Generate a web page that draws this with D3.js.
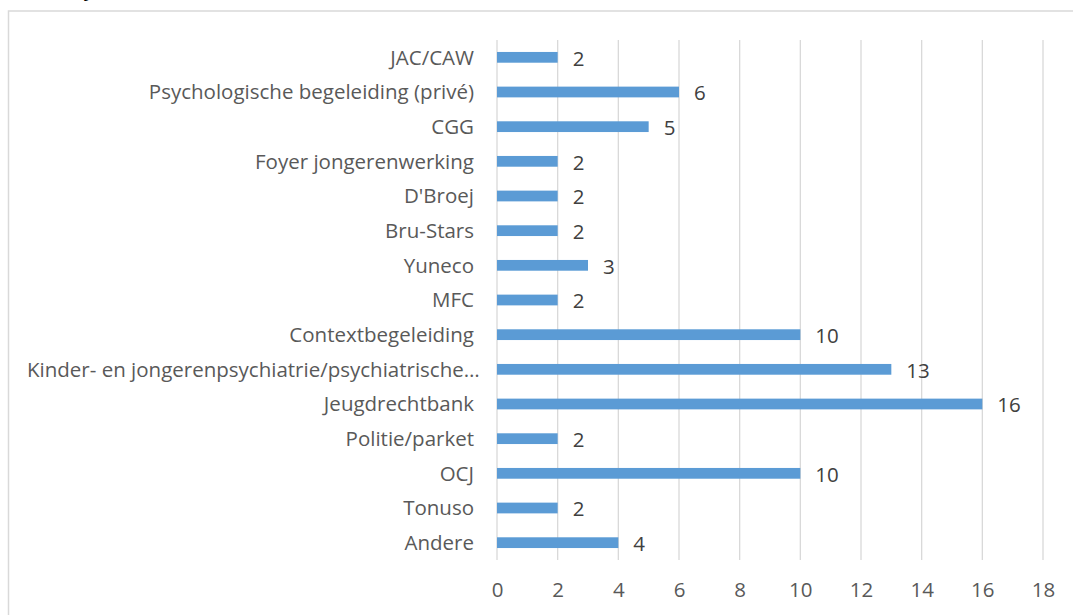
<!DOCTYPE html>
<html>
<head>
<meta charset="utf-8">
<script src="https://cdn.jsdelivr.net/npm/d3@7"></script>
<style>
  body { margin: 0; background: #fff; }
  svg { display: block; font-family: "Open Sans", "Noto Sans", sans-serif; }
</style>
</head>
<body>
<div id="chart"></div>
<script>
// categories top to bottom
const categories = [
    "JAC/CAW",
    "Psychologische begeleiding (privé)",
    "CGG",
    "Foyer jongerenwerking",
    "D'Broej",
    "Bru-Stars",
    "Yuneco",
    "MFC",
    "Contextbegeleiding",
    "Kinder- en jongerenpsychiatrie/psychiatrische…",
    "Jeugdrechtbank",
    "Politie/parket",
    "OCJ",
    "Tonuso",
    "Andere"
];
const values = [2, 6, 5, 2, 2, 2, 3, 2, 10, 13, 16, 2, 10, 2, 4];
const xTicks = [0, 2, 4, 6, 8, 10, 12, 14, 16, 18];

const W = 1073, H = 615;
const fs = 20.5;
const svg = d3.select("#chart").append("svg").attr("width", W).attr("height", H);

// cut-off title remnant at the very top
svg.append("text").attr("x", 84).attr("y", -4)
    .attr("font-size", fs).attr("fill", "#000").text("y");

// chart frame (right/bottom fall outside the picture)
svg.append("rect")
    .attr("x", 8.5).attr("y", 11).attr("width", 1080).attr("height", 620)
    .attr("fill", "none").attr("stroke", "#d9d9d9").attr("stroke-width", 1.5);

const x = d3.scaleLinear().domain([0, 18]).range([497, 1043]);
const y = d3.scaleBand().domain(categories).range([40, 560]).paddingInner(0.69).paddingOuter(0.345);

// gridlines
const grid = svg.append("g");
grid.selectAll("line").data(xTicks).join("line")
    .attr("x1", d => x(d)).attr("x2", d => x(d))
    .attr("y1", 40).attr("y2", 560)
    .attr("stroke", "#d9d9d9").attr("stroke-width", 1.3);

// bars
svg.append("g").selectAll("rect").data(categories).join("rect")
    .attr("x", x(0))
    .attr("y", d => y(d))
    .attr("width", (d, i) => x(values[i]) - x(0))
    .attr("height", y.bandwidth())
    .attr("fill", "#5b9bd5");

// data labels
svg.append("g").selectAll("text").data(categories).join("text")
    .attr("x", (d, i) => x(values[i]) + 15)
    .attr("y", d => y(d) + y.bandwidth() / 2 + 1)
    .attr("dy", "0.36em")
    .attr("font-size", fs)
    .attr("fill", "#404040")
    .text((d, i) => values[i]);

// category labels
const yAxis = d3.axisLeft(y).tickSize(0).tickPadding(0);
const gy = svg.append("g").attr("transform", "translate(474,0)").call(yAxis);
gy.select(".domain").remove();
gy.selectAll("text")
    .attr("font-size", fs)
    .attr("font-family", "\"Open Sans\", sans-serif")
    .attr("fill", "#595959")
    .attr("dy", "0.36em");
gy.selectAll("text").each(function () {
    const w = this.getComputedTextLength();
    if (474 - w < 27) {
        d3.select(this).attr("text-anchor", "start").attr("x", 27 - 474);
    }
});

// x axis labels
const xAxis = d3.axisBottom(x).tickValues(xTicks).tickSize(0).tickPadding(0);
const gx = svg.append("g").attr("transform", "translate(0,590)").call(xAxis);
gx.select(".domain").remove();
gx.selectAll("text")
    .attr("font-size", fs)
    .attr("font-family", "\"Open Sans\", sans-serif")
    .attr("fill", "#595959")
    .attr("dy", "0.36em");
</script>
</body>
</html>
